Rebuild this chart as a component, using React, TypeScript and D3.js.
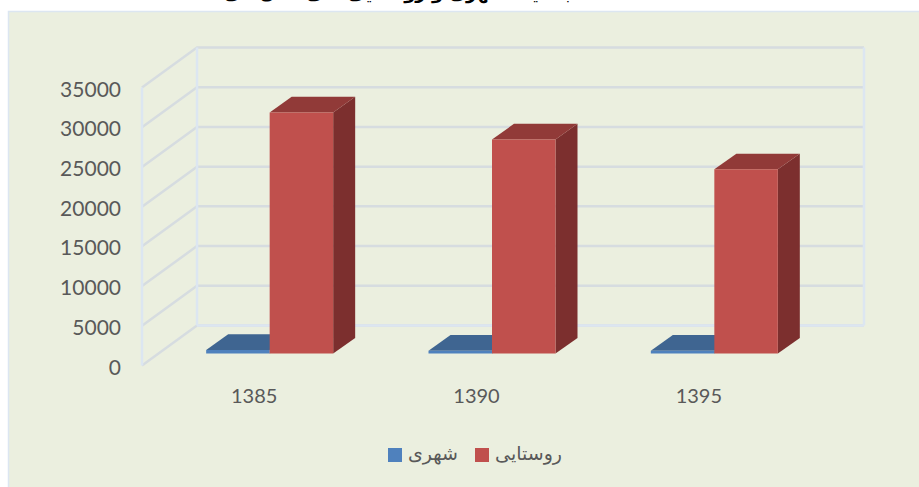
import React from "react";
import * as d3 from "d3";

const categories = ["1385", "1390", "1395"];
const urban = [450, 350, 350];
const rural = [30350, 26950, 23200];
const yTicks = [0, 5000, 10000, 15000, 20000, 25000, 30000, 35000];
const seriesNames = ["شهری", "روستایی"];
const titleText = "جمعیت شهری و روستایی طی سال‌های مختلف";

const W = 919, H = 487;
const depthX = 55, depthY = 40;
const gridColor = "#d6dce0";
const wallColor = "#dce6f1";
const latin = "Lato, sans-serif";
const arabic = "'DejaVu Sans', sans-serif";

export default function App() {
  const x = d3.scaleBand<string>().domain(categories).range([142, 809]);
  const y = d3.scaleLinear().domain([0, 35000]).range([365.5, 87.5]);
  const line = d3.line();
  const poly = (pts: [number, number][]) => line(pts) + "Z";
  const barShift = 0.3; // fraction of the floor depth at which bars stand
  const sx = depthX * barShift, sy = depthY * barShift;
  const barDX = depthX * 0.4, barDY = depthY * 0.39;
  const barW = 63.5;

  const box = (x0: number, w: number, v: number, front: string, top: string, side: string, key: string) => {
    const b = y(0) - sy;
    const t = y(v) - sy;
    const x1 = x0 + w;
    return (
      <g key={key}>
        <path d={poly([[x1, b], [x1 + barDX, b - barDY], [x1 + barDX, t - barDY], [x1, t]])} fill={side} />
        <path d={poly([[x0, t], [x0 + barDX, t - barDY], [x1 + barDX, t - barDY], [x1, t]])} fill={top} />
        <path d={poly([[x0, b], [x0, t], [x1, t], [x1, b]])} fill={front} />
      </g>
    );
  };

  return (
    <svg width={W} height={H} style={{ position: "absolute", left: 0, top: 0 }}>
      <rect x={0} y={0} width={W} height={H} fill="#fff" />
      <rect x={8.5} y={11.5} width={W} height={H} fill="#ebefdf" stroke={wallColor} strokeWidth={1.5} />
      <text x={366} y={-1} textAnchor="middle" direction="rtl" fontFamily={arabic} fontWeight={700} fontSize={18} fill="#000">{titleText}</text>

      {yTicks.map((t) => (
        <polyline key={t} fill="none" stroke={gridColor} strokeWidth={2.5}
          points={`${142},${y(t)} ${142 + depthX},${y(t) - depthY} ${864},${y(t) - depthY}`} />
      ))}
      <line x1={142} x2={142} y1={y(0)} y2={y(35000)} stroke={wallColor} strokeWidth={2.5} />
      <line x1={197} x2={197} y1={y(0) - depthY} y2={y(35000) - depthY} stroke={wallColor} strokeWidth={2.5} />
      <line x1={864} x2={864} y1={y(0) - depthY} y2={y(35000) - depthY} stroke={wallColor} strokeWidth={2.5} />
      <line x1={197} x2={864} y1={y(0) - depthY} y2={y(0) - depthY} stroke={wallColor} strokeWidth={2.5} />

      {yTicks.map((t) => (
        <text key={t} x={121} y={y(t) + 9} textAnchor="end" fontFamily={latin} fontSize={21} fill="#595959">{t}</text>
      ))}

      {categories.map((c, i) => {
        const mid = x(c)! + x.bandwidth() / 2 + sx;
        return (
          <g key={c}>
            {box(mid - barW, barW, urban[i], "#4f81bd", "#3f6591", "#2f5078", "u" + c)}
            {box(mid, barW, rural[i], "#c0504d", "#913a38", "#7c2f2e", "r" + c)}
            <text x={x(c)! + x.bandwidth() / 2 + 1} y={403} textAnchor="middle" fontFamily={latin} fontSize={20} fill="#595959">{c}</text>
          </g>
        );
      })}

      <rect x={388} y={448} width={14} height={14} fill="#4f81bd" />
      <text x={458} y={460} textAnchor="start" direction="rtl" fontFamily={arabic} fontSize={19} fill="#595959">{seriesNames[0]}</text>
      <rect x={475} y={448} width={14} height={14} fill="#c0504d" />
      <text x={562} y={460} textAnchor="start" direction="rtl" fontFamily={arabic} fontSize={19} fill="#595959">{seriesNames[1]}</text>
    </svg>
  );
}
